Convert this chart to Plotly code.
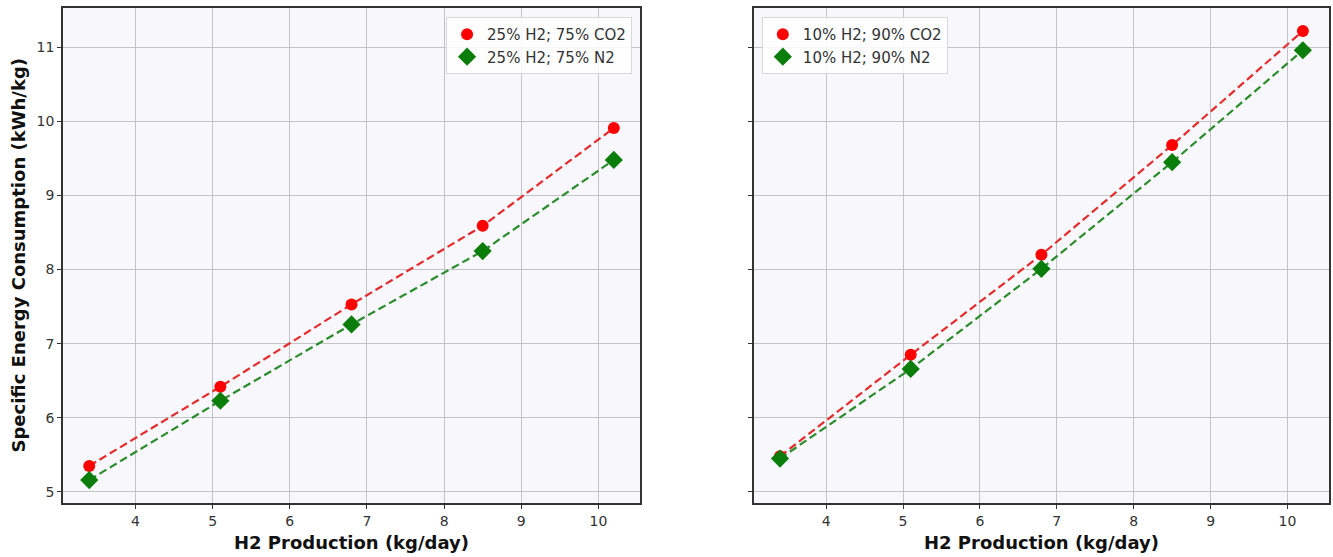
import plotly.graph_objects as go
from plotly.subplots import make_subplots

# H2 production rates (kg/day)
h2_production = [3.4, 5.1, 6.8, 8.5, 10.2]

# Specific energy consumption (kWh/kg) for each feed mixture
sec_25h2_75co2 = [5.35, 6.42, 7.53, 8.59, 9.91]
sec_25h2_75n2 = [5.16, 6.23, 7.26, 8.25, 9.48]
sec_10h2_90co2 = [5.48, 6.85, 8.20, 9.68, 11.22]
sec_10h2_90n2 = [5.45, 6.66, 8.01, 9.45, 10.96]

labels_left = ["25% H2; 75% CO2", "25% H2; 75% N2"]
labels_right = ["10% H2; 90% CO2", "10% H2; 90% N2"]

x_ticks = [4, 5, 6, 7, 8, 9, 10]
y_ticks = [5, 6, 7, 8, 9, 10, 11]

RED = "#ff0000"
RED_LINE = "#e52b2b"
GREEN = "#0a7d0a"
GREEN_LINE = "#2a8c2a"
FONT = "DejaVu Sans"

fig = make_subplots(rows=1, cols=2, shared_yaxes=True, horizontal_spacing=0.09)


def add_pair(col, y_co2, y_n2, labels, legend_name):
    for y, color, line_color, symbol, size, name in [
        (y_co2, RED, RED_LINE, "circle", 12, labels[0]),
        (y_n2, GREEN, GREEN_LINE, "diamond", 14, labels[1]),
    ]:
        fig.add_trace(
            go.Scatter(
                x=h2_production, y=y, mode="lines",
                line=dict(color=line_color, width=2.2, dash="8px,4px"),
                showlegend=False, hoverinfo="skip",
            ),
            row=1, col=col,
        )
        fig.add_trace(
            go.Scatter(
                x=h2_production, y=y, mode="markers", name=name,
                marker=dict(color=color, symbol=symbol, size=size, line=dict(width=0)),
                legend=legend_name,
            ),
            row=1, col=col,
        )


add_pair(1, sec_25h2_75co2, sec_25h2_75n2, labels_left, "legend")
add_pair(2, sec_10h2_90co2, sec_10h2_90n2, labels_right, "legend2")

axis_common = dict(
    showline=True, linecolor="#333333", linewidth=1.5, mirror=True,
    showgrid=True, gridcolor="#c4c4c8", gridwidth=1,
    ticks="outside", ticklen=4, tickcolor="#333333", tickwidth=1,
    tickfont=dict(family=FONT, size=14, color="#333333"),
    zeroline=False,
)

for col in (1, 2):
    fig.update_xaxes(
        range=[3.06, 10.54], tickvals=x_ticks, row=1, col=col, **axis_common,
    )
    fig.update_yaxes(
        range=[4.85, 11.53], tickvals=y_ticks, row=1, col=col, **axis_common,
    )

fig.update_yaxes(showticklabels=False, row=1, col=2)

legend_style = dict(
    yanchor="top", y=0.982,
    bgcolor="rgba(255,255,255,0.85)", bordercolor="#d8d8d8", borderwidth=1,
    font=dict(family=FONT, size=15, color="#333333"),
    tracegroupgap=0,
)

fig.update_layout(
    width=1333, height=557,
    margin=dict(l=63, r=2, t=8, b=54),
    paper_bgcolor="white",
    plot_bgcolor="#f7f7fc",
    font=dict(family=FONT, color="#222222"),
    xaxis=dict(domain=[0, 0.4558]),
    xaxis2=dict(domain=[0.5457, 1.0]),
    legend=dict(x=0.4495, xanchor="right", **legend_style),
    legend2=dict(x=0.552, xanchor="left", **legend_style),
    annotations=[
        dict(
            text="<b>H2 Production (kg/day)</b>", xref="paper", yref="paper",
            x=0.2279, y=-0.079, xanchor="center", yanchor="middle", showarrow=False,
            font=dict(family=FONT, size=18, color="#111111"),
        ),
        dict(
            text="<b>H2 Production (kg/day)</b>", xref="paper", yref="paper",
            x=0.7728, y=-0.079, xanchor="center", yanchor="middle", showarrow=False,
            font=dict(family=FONT, size=18, color="#111111"),
        ),
        dict(
            text="<b>Specific Energy Consumption (kWh/kg)</b>", xref="paper", yref="paper",
            x=-0.0355, y=0.5, xanchor="center", yanchor="middle", showarrow=False,
            textangle=-90, font=dict(family=FONT, size=18, color="#111111"),
        ),
    ],
)

fig.write_html("out.html")
